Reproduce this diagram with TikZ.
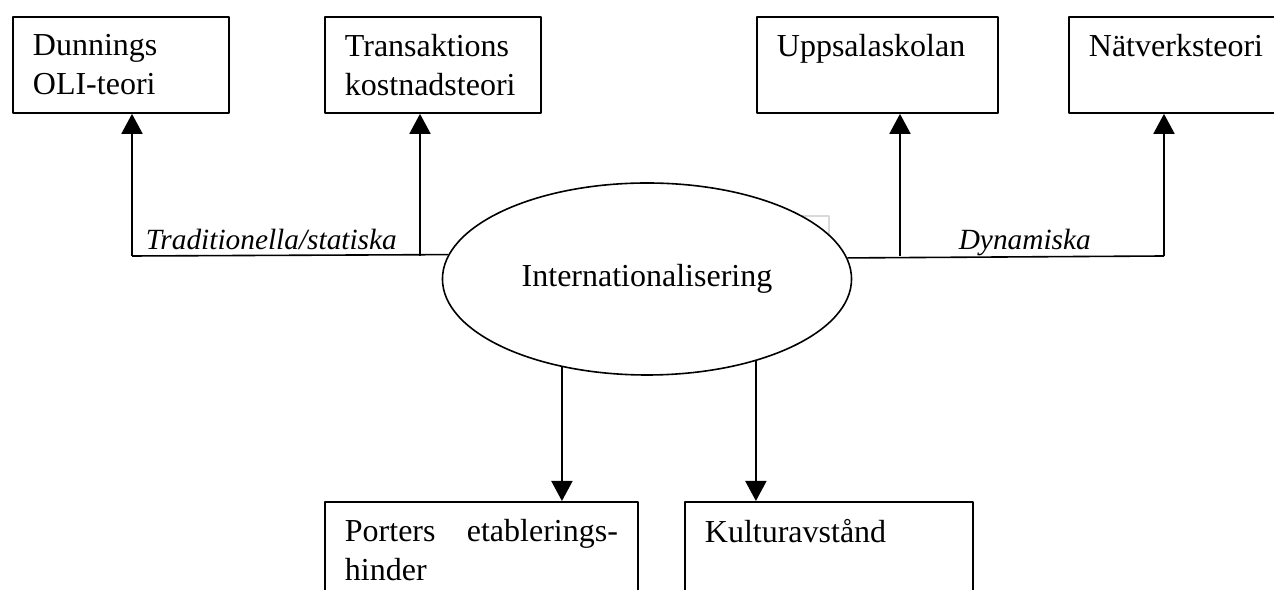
\documentclass[tikz,border=0pt]{standalone}
\usepackage{fontspec}
\setmainfont{Liberation Serif}
\usetikzlibrary{shapes.geometric,arrows.meta}
\begin{document}
\begin{tikzpicture}[x=0.375pt,y=-0.375pt,line width=0.6pt,line join=round,
	ruta/.style={draw,line width=0.7pt,anchor=north west,inner xsep=7.5pt,inner ysep=0pt,minimum height=36pt,align=left,font=\fontsize{12}{14.6}\selectfont},
	pil/.style={-{Triangle[width=7.9pt,length=7.5pt]}},
	etikett/.style={anchor=base west,inner sep=0pt,font=\fontsize{11}{13}\selectfont\itshape}]
	\useasboundingbox (0,0) rectangle (1274,590);
	% svag ram bakom ellipsen
	\draw[black!15,line width=0.4pt] (801,216) -- (829,216) -- (829,236);
	\node[ellipse,draw,fill=white,inner sep=0pt,minimum width=153.4pt,minimum height=72pt,font=\fontsize{12}{14.6}\selectfont] (int) at (647,279) {Internationalisering};
	% teorirutor
	\node[ruta,text width=66pt] (dunning) at (12,16) {Dunnings\\OLI-teori};
	\node[ruta,text width=66pt] (trans) at (324,16) {Transaktions\\kostnadsteori};
	\node[ruta,text width=75.375pt] (uppsala) at (756,16) {Uppsalaskolan\\\mbox{}};
	\node[ruta,text width=66pt] (natverk) at (1068,16) {Nätverksteori\\\mbox{}};
	\node[ruta,text width=102.375pt] (porter) at (324,501) {Porters\hskip 0pt plus 1filll etablerings-\\hinder};
	\node[ruta,text width=93pt] (kultur) at (684,501) {Kulturavstånd\\\mbox{}};
	% grenpunkter
	\coordinate (tb) at (132,256); \coordinate (ta) at (420,256);
	\coordinate (ua) at (900,256); \coordinate (nb) at (1164,256);
	\draw (int.173.4) -- (tb);
	\draw (int.6.6) -- (nb);
	\draw[pil] (tb) -- (tb |- dunning.south);
	\draw[pil] (ta) -- (ta |- trans.south);
	\draw[pil] (ua) -- (ua |- uppsala.south);
	\draw[pil] (nb) -- (nb |- natverk.south);
	\draw[pil] (int.226.6) -- (int.226.6 |- porter.north);
	\draw[pil] (int.323.3) -- (int.323.3 |- kultur.north);
	\node[etikett] (trad) at (145,250) {Traditionella/statiska};
	\node[etikett] (dyn) at (958,250) {Dynamiska};
\end{tikzpicture}
\end{document}
